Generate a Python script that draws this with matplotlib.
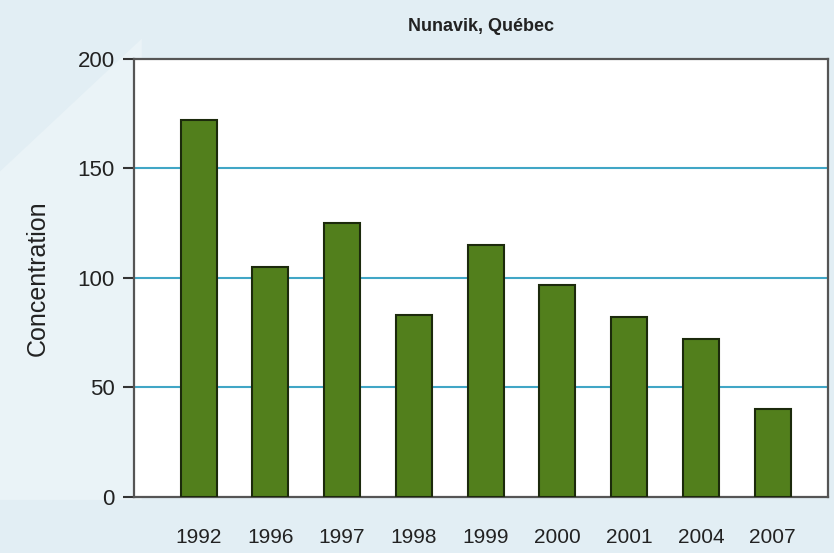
import matplotlib
matplotlib.use("Agg")
import matplotlib.pyplot as plt
from matplotlib.patches import Polygon

# data
years = ["1992", "1996", "1997", "1998", "1999", "2000", "2001", "2004", "2007"]
concentration = [172, 105, 125, 83, 115, 97, 82, 72, 40]
yticks = [0, 50, 100, 150, 200]

plt.rcParams["font.family"] = ["Liberation Sans", "DejaVu Sans"]

fig = plt.figure(figsize=(8.34, 5.53), dpi=100)
fig.patch.set_facecolor("#e2eef4")

# lighter diagonal band in the background
bg = fig.add_axes([0, 0, 1, 1], zorder=-1)
bg.set_xlim(0, 1)
bg.set_ylim(0, 1)
bg.axis("off")
bg.add_patch(Polygon([[0, 0.096], [0, 0.69], [0.17, 0.93], [0.17, 0.096]],
                     closed=True, facecolor="#eaf3f7", edgecolor="none"))

ax = fig.add_axes([0.1607, 0.1013, 0.832, 0.792])
ax.set_facecolor("white")

x = range(len(years))
ax.bar(x, concentration, width=0.5, color="#527f1c", edgecolor="#1c2a0c",
       linewidth=1.5, zorder=3)

ax.set_ylim(0, 200)
ax.set_xlim(-0.9, 8.77)
ax.set_yticks(yticks)
ax.set_yticklabels([str(t) for t in yticks], fontsize=16, color="#222222")
ax.set_xticks(list(x))
ax.set_xticklabels(years, fontsize=15, color="#222222")
ax.tick_params(axis="x", length=0, pad=22)
ax.tick_params(axis="y", length=8, width=1.5, color="#333333", pad=6)

for v in [50, 100, 150]:
    ax.axhline(v, color="#41a6c6", linewidth=1.5, zorder=1)

for s in ax.spines.values():
    s.set_color("#555555")
    s.set_linewidth(1.6)

ax.set_ylabel("Concentration", fontsize=18, color="#222222")
ax.yaxis.set_label_coords(-0.122, 0.5)
fig.text(0.577, 0.952, "Nunavik, Québec", ha="center", va="center",
         fontsize=13, fontweight="bold", color="#222222")

fig.savefig("out.png", dpi=100, facecolor=fig.get_facecolor())
